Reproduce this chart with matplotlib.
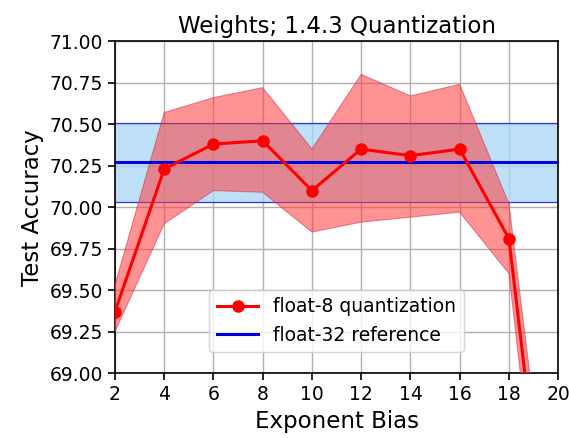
import matplotlib
matplotlib.use("Agg")
import matplotlib.pyplot as plt
import numpy as np

bias = [2, 4, 6, 8, 10, 12, 14, 16, 18, 20]
acc_mean = [69.37, 70.23, 70.38, 70.40, 70.10, 70.35, 70.31, 70.35, 69.81, 67.30]
acc_upper = [69.53, 70.57, 70.66, 70.72, 70.35, 70.80, 70.67, 70.74, 70.02, 67.60]
acc_lower = [69.25, 69.90, 70.10, 70.09, 69.85, 69.91, 69.94, 69.97, 69.60, 67.00]
ref_mean = 70.27
ref_lower = 70.03
ref_upper = 70.51

fig = plt.figure(figsize=(5.69, 4.38), dpi=100)
ax = fig.add_axes([0.202, 0.148, 0.779, 0.758])

ax.axhspan(ref_lower, ref_upper, facecolor='#a8d8f5', alpha=0.75, zorder=1)
ax.axhline(ref_lower, color='#3333dd', lw=0.9, zorder=2)
ax.axhline(ref_upper, color='#3333dd', lw=0.9, zorder=2)
ax.fill_between(bias, acc_lower, acc_upper, facecolor='#ff3b3b', alpha=0.55,
                edgecolor='#cc3355', lw=0.8, zorder=3)
ax.axhline(ref_mean, color='#0000dd', lw=2.2, zorder=4, label='float-32 reference')
ax.plot(bias, acc_mean, color='#ff0000', lw=2.2, marker='o', ms=8, zorder=5,
        label='float-8 quantization')

ax.set_xlim(2, 20)
ax.set_ylim(69.0, 71.0)
ax.set_xticks(range(2, 21, 2))
ax.set_yticks(np.arange(69.0, 71.01, 0.25))
ax.set_yticklabels([f"{v:.2f}" for v in np.arange(69.0, 71.01, 0.25)])
ax.grid(True, color='#b0b0b0', lw=1.0, zorder=0)
ax.set_axisbelow(True)
ax.tick_params(labelsize=13.5, direction='out', length=5, width=1.2)
for s in ax.spines.values():
    s.set_linewidth(1.2)

ax.set_title('Weights; 1.4.3 Quantization', fontsize=16.5)
ax.set_xlabel('Exponent Bias', fontsize=16.5)
ax.set_ylabel('Test Accuracy', fontsize=16.5)

handles, labels = ax.get_legend_handles_labels()
ax.legend(handles[::-1], labels[::-1], loc='lower center', bbox_to_anchor=(0.5, 0.035),
          fontsize=13.5, framealpha=0.8, handlelength=2.2)

fig.savefig('out.png', dpi=100)
